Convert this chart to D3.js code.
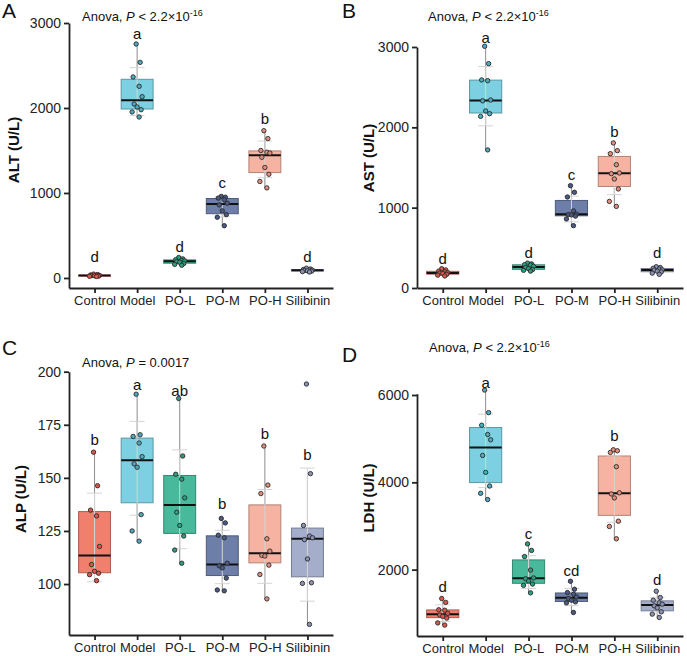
<!DOCTYPE html>
<html>
<head>
<meta charset="utf-8">
<script src="https://cdn.jsdelivr.net/npm/d3@7"></script>
<style>
  body { margin: 0; background: #fff; }
  text { font-family: "Liberation Sans", Arial, sans-serif; }
</style>
</head>
<body>
<svg id="chart" width="687" height="656"></svg>
<script>
const groups = ["Control", "Model", "PO-L", "PO-M", "PO-H", "Silibinin"];
const boxColors = ["#f07f6e", "#7dd0e1", "#48b99b", "#6d7ea8", "#f7b3a1", "#a4aecb"];
const pointColors = ["#d9574b", "#4fa9bf", "#2e9e80", "#4a5a85", "#e08f7e", "#8a93b5"];

// ALT (U/L), one list per group
const altValues = [
    [45, 40, 35, 32, 30, 28, 25, 22, 20, 18],
    [2753, 2537, 2365, 2255, 2133, 2047, 2012, 1980, 1953, 1894],
    [240, 225, 215, 205, 200, 192, 185, 170, 160, 150],
    [960, 950, 940, 920, 880, 860, 790, 745, 715, 615],
    [1733, 1640, 1500, 1480, 1470, 1420, 1300, 1220, 1135, 1060],
    [115, 105, 100, 95, 92, 88, 85, 80, 75, 70]
];
const altLetters = ["d", "a", "d", "c", "b", "d"];
const altLetterY = [255, 2882, 372, 1118, 1871, 255];
const altTicks = [0, 1000, 2000, 3000];

// AST (U/L)
const astValues = [
    [240, 225, 210, 200, 190, 185, 180, 170, 160, 150],
    [3009, 2793, 2590, 2581, 2340, 2330, 2204, 2170, 2137, 1719],
    [310, 300, 290, 285, 270, 255, 240, 230, 220, 210],
    [1274, 1191, 1133, 960, 920, 915, 910, 895, 860, 776],
    [1806, 1710, 1672, 1535, 1432, 1423, 1357, 1233, 1078, 1016],
    [265, 255, 245, 235, 225, 222, 210, 200, 185, 170]
];
const astLetters = ["d", "a", "d", "c", "b", "d"];
const astLetterY = [373, 3113, 443, 1411, 1943, 436];
const astTicks = [0, 1000, 2000, 3000];

// ALP (U/L)
const alpValues = [
    [162.1, 146.3, 134.8, 132.1, 117.7, 109.2, 106, 105.1, 104.4, 101.6],
    [189.4, 170.3, 169.5, 166.4, 160, 156.6, 155, 132.7, 125, 120.2],
    [187.4, 160.3, 151.7, 149.4, 140.6, 133.8, 127.6, 122.6, 116, 109.8],
    [130.9, 128.8, 123, 121.8, 109.8, 108.6, 107.6, 102.8, 97.2, 96.8],
    [165, 146.6, 142.6, 121.3, 115.5, 113.5, 113.2, 108.9, 104.5, 93],
    [194.2, 152, 127.6, 122.6, 121.8, 120.9, 111.8, 100.6, 100.3, 81]
];
const alpLetters = ["b", "a", "ab", "b", "b", "b"];
const alpLetterY = [168, 194, 191, 138, 171, 161];
const alpTicks = [100, 125, 150, 175, 200];

// LDH (U/L)
const ldhValues = [
    [1338, 1250, 1080, 1070, 1000, 960, 930, 890, 780, 730],
    [6114, 5597, 5308, 5095, 4974, 4616, 4228, 3916, 3749, 3605],
    [2590, 2440, 2300, 1990, 1810, 1790, 1740, 1670, 1640, 1468],
    [1734, 1551, 1475, 1437, 1376, 1338, 1300, 1262, 1240, 1019],
    [4745, 4723, 4685, 4358, 3760, 3734, 3643, 3110, 2989, 2707],
    [1506, 1361, 1300, 1240, 1209, 1171, 1125, 1034, 981, 905]
];
const ldhLetters = ["d", "a", "c", "cd", "b", "d"];
const ldhLetterY = [1620, 6297, 2837, 1985, 5065, 1772];
const ldhTicks = [2000, 4000, 6000];

// fixed horizontal spread of the dots (px)
const jitter = [-1, 3, -4, 2, 5, -3, 0, 4, -5, 2];

const panels = [
    { tag: "A", ylab: "ALT (U/L)", values: altValues, letters: altLetters, letterY: altLetterY, ticks: altTicks,
      ptext: " < 2.2\u00d710", sup: "-16", domain: [-118, 3000],
      x0: 69, x1: 333, yTop: 23, yBot: 288, tagX: 2, tagY: 18, titleX: 82, titleY: 21, labX: 13, labY: 150 },
    { tag: "B", ylab: "AST (U/L)", values: astValues, letters: astLetters, letterY: astLetterY, ticks: astTicks,
      ptext: " < 2.2\u00d710", sup: "-16", domain: [0, 3000],
      x0: 417, x1: 683, yTop: 47, yBot: 288, tagX: 342, tagY: 18, titleX: 428, titleY: 21, labX: 368, labY: 158 },
    { tag: "C", ylab: "ALP (U/L)", values: alpValues, letters: alpLetters, letterY: alpLetterY, ticks: alpTicks,
      ptext: " = 0.0017", sup: "", domain: [76, 200],
      x0: 69, x1: 333, yTop: 371.7, yBot: 635, tagX: 2, tagY: 355, titleX: 82, titleY: 367, labX: 20, labY: 499 },
    { tag: "D", ylab: "LDH (U/L)", values: ldhValues, letters: ldhLetters, letterY: ldhLetterY, ticks: ldhTicks,
      ptext: " < 2.2\u00d710", sup: "-16", domain: [480, 6030],
      x0: 417, x1: 683, yTop: 393.7, yBot: 636, tagX: 342, tagY: 362, titleX: 429, titleY: 352, labX: 368, labY: 498 }
];

function boxStats(vals) {
    let s = vals.slice().sort(d3.ascending);
    let q1 = d3.quantileSorted(s, 0.25);
    let med = d3.quantileSorted(s, 0.5);
    let q3 = d3.quantileSorted(s, 0.75);
    let iqr = q3 - q1;
    let lo = d3.min(s.filter(v => v >= q1 - 1.5 * iqr));
    let hi = d3.max(s.filter(v => v <= q3 + 1.5 * iqr));
    let mean = d3.mean(s);
    let sd = d3.deviation(s);
    return { q1, med, q3, lo, hi, mean, sd };
}

const svg = d3.select("#chart");

panels.forEach(function(p) {
    let g = svg.append("g");

    let x = d3.scalePoint()
        .domain(groups)
        .range([p.x0, p.x1])
        .padding(0.6);
    let y = d3.scaleLinear()
        .domain(p.domain)
        .range([p.yBot, p.yTop]);
    let step = x.step();
    let bw = step * 0.75;
    let cap = step * 0.35;

    // panel tag
    g.append("text")
        .attr("x", p.tagX).attr("y", p.tagY)
        .attr("font-size", 21)
        .attr("fill", "#111")
        .text(p.tag);

    // anova text
    let t = g.append("text")
        .attr("x", p.titleX).attr("y", p.titleY)
        .attr("font-size", 13)
        .attr("fill", "#111");
    t.append("tspan").text("Anova, ");
    t.append("tspan").attr("font-style", "italic").text("P");
    t.append("tspan").text(p.ptext);
    if (p.sup) {
        t.append("tspan").attr("font-size", 9).attr("dy", -5).text(p.sup);
    }

    // y title
    g.append("text")
        .attr("transform", `translate(${p.labX},${p.labY}) rotate(-90)`)
        .attr("text-anchor", "middle")
        .attr("dominant-baseline", "central")
        .attr("font-size", 15)
        .attr("font-weight", "bold")
        .attr("fill", "#111")
        .text(p.ylab);

    groups.forEach(function(grp, i) {
        let vals = p.values[i];
        let st = boxStats(vals);
        let cx = x(grp);

        // whiskers
        g.append("line")
            .attr("x1", cx).attr("x2", cx)
            .attr("y1", y(st.hi)).attr("y2", y(st.q3))
            .attr("stroke", "#8c8c8c").attr("stroke-width", 1);
        g.append("line")
            .attr("x1", cx).attr("x2", cx)
            .attr("y1", y(st.q1)).attr("y2", y(st.lo))
            .attr("stroke", "#8c8c8c").attr("stroke-width", 1);

        // box
        g.append("rect")
            .attr("x", cx - bw / 2)
            .attr("y", y(st.q3))
            .attr("width", bw)
            .attr("height", Math.max(1, y(st.q1) - y(st.q3)))
            .attr("fill", boxColors[i])
            .attr("stroke", d3.color(boxColors[i]).darker(0.9))
            .attr("stroke-width", 1);

        // mean +/- sd error bar, light grey
        let eTop = y(st.mean + st.sd);
        let eBot = y(st.mean - st.sd);
        g.append("line")
            .attr("x1", cx).attr("x2", cx)
            .attr("y1", eTop).attr("y2", eBot)
            .attr("stroke", "#d4d4d4").attr("stroke-width", 1);
        [eTop, eBot].forEach(function(ey) {
            g.append("line")
                .attr("x1", cx - cap / 2).attr("x2", cx + cap / 2)
                .attr("y1", ey).attr("y2", ey)
                .attr("stroke", "#d4d4d4").attr("stroke-width", 1);
        });

        // median
        g.append("line")
            .attr("x1", cx - bw / 2).attr("x2", cx + bw / 2)
            .attr("y1", y(st.med)).attr("y2", y(st.med))
            .attr("stroke", "#111").attr("stroke-width", 2);

        // dots
        g.selectAll(null)
            .data(vals)
            .enter().append("circle")
            .attr("cx", (d, j) => cx + jitter[j % jitter.length])
            .attr("cy", d => y(d))
            .attr("r", 2.2)
            .attr("fill", pointColors[i])
            .attr("stroke", "#2a2a2a")
            .attr("stroke-width", 0.9);

        // group letter
        g.append("text")
            .attr("x", cx)
            .attr("y", y(p.letterY[i]))
            .attr("text-anchor", "middle")
            .attr("dominant-baseline", "central")
            .attr("font-size", 15)
            .attr("fill", "#111")
            .text(p.letters[i]);
    });

    // axes
    let ya = g.append("g")
        .attr("transform", `translate(${p.x0},0)`)
        .call(d3.axisLeft(y).tickValues(p.ticks).tickFormat(d3.format("d"))
            .tickSize(5).tickSizeOuter(0).tickPadding(3));
    let xa = g.append("g")
        .attr("transform", `translate(0,${p.yBot})`)
        .call(d3.axisBottom(x).tickSize(5).tickSizeOuter(0).tickPadding(3));

    ya.selectAll("text").attr("font-size", 14).attr("fill", "#222").style("font-family", "Liberation Sans, Arial, sans-serif");
    xa.selectAll("text").attr("font-size", 13).attr("fill", "#222").style("font-family", "Liberation Sans, Arial, sans-serif");
    ya.selectAll("path, line").attr("stroke", "#222").attr("stroke-width", 1.8);
    xa.selectAll("path, line").attr("stroke", "#222").attr("stroke-width", 1.8);
});
</script>
</body>
</html>
